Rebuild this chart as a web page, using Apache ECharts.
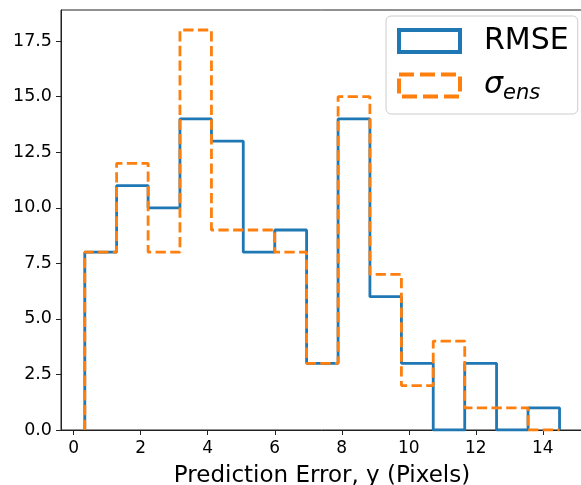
<!DOCTYPE html>
<html>
<head>
<meta charset="utf-8">
<script src="https://cdn.jsdelivr.net/npm/echarts@6/dist/echarts.min.js"></script>
<style>
  html, body { margin: 0; padding: 0; background: #fff; }
  #chart { width: 581px; height: 485px; }
</style>
</head>
<body>
<div id="chart"></div>
<script>
// bin edges shared by both histograms
var binEdges = [0.33, 1.28, 2.22, 3.17, 4.11, 5.06, 6.00, 6.95, 7.89, 8.84, 9.78, 10.73, 11.67, 12.62, 13.56, 14.50];
// counts per bin
var rmseCounts = [8, 11, 10, 14, 13, 8, 9, 3, 14, 6, 3, 0, 3, 0, 1];
var ensCounts = [8, 12, 8, 18, 9, 9, 8, 3, 15, 7, 2, 4, 1, 1, 0];
// tick labels
var xTicks = [0, 2, 4, 6, 8, 10, 12, 14];
var yTicks = [0, 2.5, 5, 7.5, 10, 12.5, 15, 17.5];

var font = 'DejaVu Sans';

// outline of a step histogram: up from 0, across each bin, back down to 0
function stepOutline(edges, counts) {
  var pts = [[edges[0], 0]];
  for (var i = 0; i < counts.length; i++) {
    pts.push([edges[i], counts[i]]);
    pts.push([edges[i + 1], counts[i]]);
  }
  pts.push([edges[edges.length - 1], 0]);
  return pts;
}

var chart = echarts.init(document.getElementById('chart'));

var option = {
  animation: false,
  grid: {
    left: 61,
    top: 10,
    width: 522,
    bottom: 55,
    outerBoundsMode: 'none',
    show: true,
    borderColor: '#222',
    borderWidth: 1,
    backgroundColor: 'transparent'
  },
  legend: {
    orient: 'vertical',
    left: 386,
    top: 16,
    padding: [10, 9, 10, 11],
    itemWidth: 61,
    itemHeight: 22,
    itemGap: 11,
    backgroundColor: 'rgba(255,255,255,0.8)',
    borderColor: '#cccccc',
    borderWidth: 1,
    borderRadius: 5,
    data: [{
        name: 'RMSE',
        icon: 'rect',
        itemStyle: { color: 'rgba(0,0,0,0)', borderColor: '#1f77b4', borderWidth: 4 }
      },
      {
        name: 'sigma_ens',
        icon: 'rect',
        itemStyle: { color: 'rgba(0,0,0,0)', borderColor: '#ff7f0e', borderWidth: 4, borderType: [15, 6] }
      }
    ],
    formatter: function (name) {
      if (name === 'RMSE') return '{a|RMSE}';
      return '{s|σ}{sub|ens}';
    },
    textStyle: {
      padding: [0, 0, 0, 19],
      rich: {
        a: { fontFamily: font, fontSize: 30, color: '#000', lineHeight: 22 },
        s: { fontFamily: font, fontStyle: 'italic', fontSize: 30, color: '#000', lineHeight: 22 },
        sub: { fontFamily: font, fontStyle: 'italic', fontSize: 21, color: '#000', lineHeight: 12, padding: [16, 0, 0, 0] }
      }
    }
  },
  xAxis: {
    type: 'value',
    min: -0.38,
    max: 15.2,
    name: 'Prediction Error, y (Pixels)',
    nameLocation: 'middle',
    nameGap: 35,
    nameTextStyle: { fontFamily: font, fontSize: 23, color: '#000' },
    splitLine: { show: false },
    axisLine: { show: true, onZero: false, lineStyle: { color: '#222', width: 1 } },
    axisTick: { show: true, length: 5, customValues: xTicks, lineStyle: { color: '#222' } },
    axisLabel: { customValues: xTicks, fontFamily: font, fontSize: 17, color: '#000', margin: 10 }
  },
  yAxis: {
    type: 'value',
    min: 0,
    max: 18.9,
    splitLine: { show: false },
    axisLine: { show: true, onZero: false, lineStyle: { color: '#222', width: 1 } },
    axisTick: { show: true, length: 5, customValues: yTicks, lineStyle: { color: '#222' } },
    axisLabel: {
      customValues: yTicks,
      fontFamily: font, fontSize: 17.5, color: '#000', margin: 9,
      formatter: function (v) { return v.toFixed(1); }
    }
  },
  series: [{
      name: 'RMSE',
      type: 'line',
      data: stepOutline(binEdges, rmseCounts),
      showSymbol: false,
      lineStyle: { color: '#1f77b4', width: 2.8 },
      itemStyle: { color: '#1f77b4' },
      z: 2
    },
    {
      name: 'sigma_ens',
      type: 'line',
      data: stepOutline(binEdges, ensCounts),
      showSymbol: false,
      lineStyle: { color: '#ff7f0e', width: 2.8, type: [10.3, 4.4] },
      itemStyle: { color: '#ff7f0e' },
      z: 3
    }
  ]
};
chart.setOption(option);
</script>
</body>
</html>
